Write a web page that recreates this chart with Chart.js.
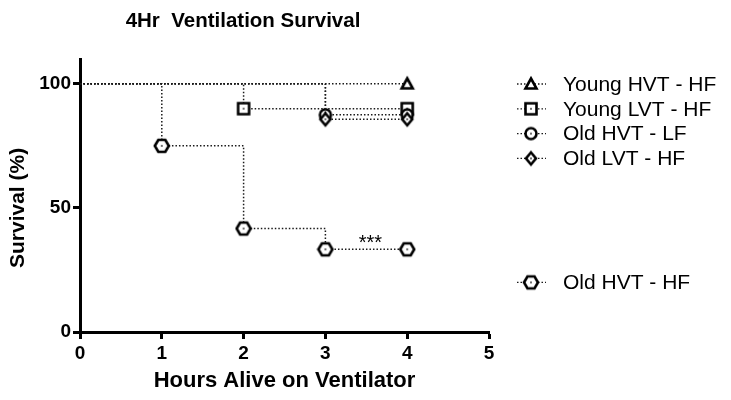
<!DOCTYPE html>
<html>
<head>
<meta charset="utf-8">
<script src="https://cdn.jsdelivr.net/npm/chart.js@4/dist/chart.umd.min.js"></script>
<style>
html,body{margin:0;padding:0;background:#fff;}
#wrap{width:731px;height:400px;position:relative;}
</style>
</head>
<body>
<div id="wrap"><canvas id="c" width="731" height="400"></canvas></div>
<script>
// ---- data ----
const seriesNames = ["Young HVT - HF", "Young LVT - HF", "Old HVT - LF", "Old LVT - HF", "Old HVT - HF"];
const youngHVT_HF_x = [0, 4];
const youngHVT_HF_y = [100, 100];
const youngLVT_HF_x = [0, 2, 4];
const youngLVT_HF_y = [100, 90, 90];
const oldHVT_LF_x = [0, 3, 4];
const oldHVT_LF_y = [100, 87.5, 87.5];
const oldLVT_HF_x = [0, 3, 4];
const oldLVT_HF_y = [100, 85.7, 85.7];
const oldHVT_HF_x = [0, 1, 2, 3, 4];
const oldHVT_HF_y = [100, 75, 41.7, 33.3, 33.3];
const xTicks = [0, 1, 2, 3, 4, 5];
const yTicks = [0, 50, 100];
const annotationText = "***";
const annotationPos = [3.55, 37];

// ---- marker drawing ----
function makeMarker(shape) {
  const s = 18;
  const c = document.createElement('canvas');
  c.width = s; c.height = s;
  const g = c.getContext('2d');
  g.lineWidth = 2.6; g.strokeStyle = '#000'; g.fillStyle = '#fff';
  const m = s / 2;
  g.beginPath();
  if (shape === 'triangle') {
    g.moveTo(m, m - 5.5); g.lineTo(m + 5.5, m + 4.5); g.lineTo(m - 5.5, m + 4.5); g.closePath();
  } else if (shape === 'square') {
    g.rect(m - 5.5, m - 5.5, 11, 11);
  } else if (shape === 'circle') {
    g.arc(m, m, 5.5, 0, Math.PI * 2);
  } else if (shape === 'diamond') {
    g.moveTo(m, m - 6); g.lineTo(m + 5, m); g.lineTo(m, m + 6); g.lineTo(m - 5, m); g.closePath();
  } else if (shape === 'hexagon') {
    g.moveTo(m - 7, m); g.lineTo(m - 3.5, m - 6); g.lineTo(m + 3.5, m - 6);
    g.lineTo(m + 7, m); g.lineTo(m + 3.5, m + 6); g.lineTo(m - 3.5, m + 6); g.closePath();
  }
  g.fill(); g.stroke();
  if (shape !== 'triangle') {
    g.fillStyle = '#000';
    g.fillRect(m - 0.75, m - 0.75, 1.5, 1.5);
  }
  return c;
}
const shapes = ['triangle', 'square', 'circle', 'diamond', 'hexagon'];
const markers = shapes.map(makeMarker);

function pts(xs, ys) { return xs.map((x, i) => ({x: x, y: ys[i]})); }
const allX = [youngHVT_HF_x, youngLVT_HF_x, oldHVT_LF_x, oldLVT_HF_x, oldHVT_HF_x];
const allY = [youngHVT_HF_y, youngLVT_HF_y, oldHVT_LF_y, oldLVT_HF_y, oldHVT_HF_y];

const datasets = seriesNames.map((name, k) => ({
  label: name,
  data: pts(allX[k], allY[k]),
  stepped: 'before',
  borderColor: '#1a1a1a',
  borderWidth: 1.5,
  borderDash: [1.5, 2],
  fill: false,
  pointStyle: markers[k],
  pointRadius: allX[k].map((x, i) => i === 0 ? 0 : 7),
  order: 5 - k
}));

const legendSlots = [0, 1, 2, 3, 8];

const decor = {
  id: 'decor',
  afterDraw(chart) {
    const ctx = chart.ctx;
    const xs = chart.scales.x, ys = chart.scales.y;
    ctx.save();
    ctx.fillStyle = '#000';
    // title
    ctx.font = 'bold 20.5px "Liberation Sans", Arial, sans-serif';
    ctx.textAlign = 'center'; ctx.textBaseline = 'middle';
    ctx.fillText('4Hr  Ventilation Survival', 243, 21);
    // y title
    ctx.save();
    ctx.translate(18, ys.getPixelForValue(50));
    ctx.rotate(-Math.PI / 2);
    ctx.font = 'bold 21px "Liberation Sans", Arial, sans-serif';
    ctx.fillText('Survival (%)', 0, 0);
    ctx.restore();
    // annotation
    ctx.font = '20px "Liberation Sans", Arial, sans-serif';
    ctx.fillText(annotationText, xs.getPixelForValue(annotationPos[0]), ys.getPixelForValue(annotationPos[1]) + 3);
    // legend
    ctx.textAlign = 'left';
    ctx.font = '21px "Liberation Sans", Arial, sans-serif';
    seriesNames.forEach((name, k) => {
      const y = 84 + legendSlots[k] * 24.8;
      ctx.save();
      ctx.strokeStyle = '#1a1a1a'; ctx.lineWidth = 1.3; ctx.setLineDash([1.5, 2]);
      ctx.beginPath(); ctx.moveTo(517, y); ctx.lineTo(546, y); ctx.stroke();
      ctx.restore();
      ctx.drawImage(markers[k], 531 - 9, y - 9);
      ctx.fillText(name, 563, y + 1);
    });
    ctx.restore();
  }
};

new Chart(document.getElementById('c'), {
  type: 'line',
  data: { datasets: datasets },
  plugins: [decor],
  options: {
    responsive: false,
    animation: false,
    events: [],
    layout: { padding: { left: 0, right: 242, top: 59, bottom: 0 } },
    plugins: { legend: { display: false }, tooltip: { enabled: false }, title: { display: false } },
    elements: { line: { tension: 0 } },
    scales: {
      x: {
        type: 'linear', min: 0, max: 5,
        afterBuildTicks: (s) => { s.ticks = xTicks.map(v => ({value: v})); },
        afterFit: (s) => { s.height = 68; },
        grid: { drawOnChartArea: false, drawTicks: true, tickLength: 7, tickWidth: 3, tickColor: '#000' },
        border: { display: true, width: 3, color: '#000' },
        ticks: { color: '#000', padding: 3, font: { family: '"Liberation Sans", Arial, sans-serif', size: 19, weight: 'bold' } },
        title: { display: true, text: 'Hours Alive on Ventilator', color: '#000', padding: { top: 0, bottom: 6 },
                 font: { family: '"Liberation Sans", Arial, sans-serif', size: 22, weight: 'bold' } }
      },
      y: {
        type: 'linear', min: 0, max: 110,
        afterBuildTicks: (s) => { s.ticks = yTicks.map(v => ({value: v})); },
        afterFit: (s) => { s.width = 80; },
        grid: { drawOnChartArea: false, drawTicks: true, tickLength: 7, tickWidth: 3, tickColor: '#000' },
        border: { display: true, width: 3, color: '#000' },
        ticks: { color: '#000', padding: 2, font: { family: '"Liberation Sans", Arial, sans-serif', size: 19, weight: 'bold' } }
      }
    }
  }
});
</script>
</body>
</html>
